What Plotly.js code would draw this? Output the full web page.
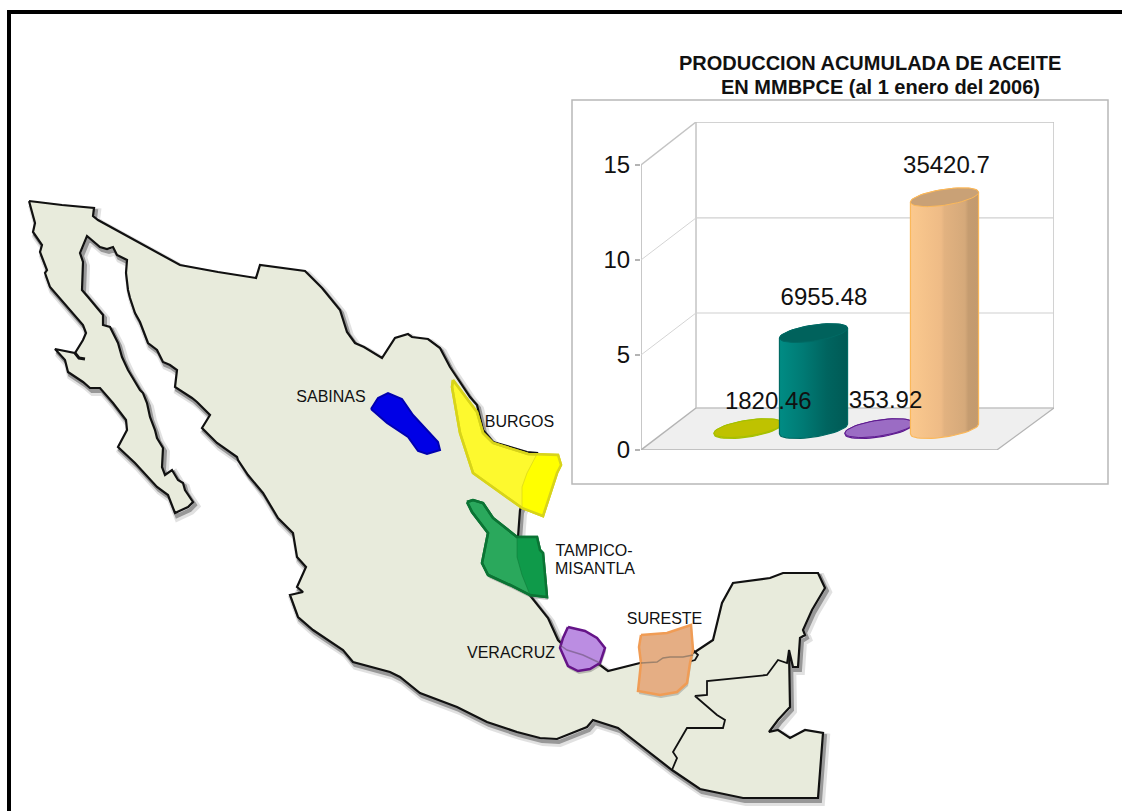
<!DOCTYPE html>
<html><head><meta charset="utf-8">
<script src="https://cdn.plot.ly/plotly-3.0.1.min.js"></script>
<style>html,body{margin:0;padding:0;background:#fff}#c{width:1122px;height:811px}</style>
</head><body><div id="c"></div>
<script>
// ---------- inset chart data ----------
const fieldLabels = ['1820.46','6955.48','353.92','35420.7'];
const barHeights = [0.05, 5.05, 0.05, 12.2];
const labelX = [0.31, 1.16, 2.1, 3.03];
const labelY = [2.45, 7.93, 2.5, 14.87];
const axisTicks = [0,5,10,15];
const chartTitle1 = 'PRODUCCION ACUMULADA DE ACEITE';
const chartTitle2 = 'EN MMBPCE (al 1 enero del 2006)';
// ---------- map data ----------
const outlineX = [29,62,94,93,98,140,180,218,256,260,305,322,340,347,355,364,382,395,408,412,428,440,450,470,477,483,493,527,537,532,520,518,517,528,548,558,570,600,608,640,663,683,695,713,722,733,770,783,818,825,812,803,805,800,798,793,789,790,778,769,778,790,805,823,818,743,700,672,618,593,587,557,540,517,487,457,420,400,390,353,343,313,298,290,303,297,306,297,293,278,263,248,238,237,217,202,210,197,192,175,177,170,163,157,148,140,135,130,128,126,127,117,113,107,100,87,80,83,82,88,103,103,110,118,122,128,137,140,143,147,150,155,157,163,162,165,172,178,183,185,193,188,175,168,157,135,118,127,126,113,100,90,83,68,65,55,75,83,86,83,50,45,47,40,42,33,35,29];
const outlineY = [201,205,208,216,220,243,265,272,278,265,271,288,310,332,343,347,358,338,334,337,339,348,367,397,405,430,442,452,453,480,510,537,557,593,618,640,652,665,671,663,658,657,652,640,603,583,578,573,573,588,610,630,635,638,667,667,650,707,720,732,730,738,730,733,798,798,789,770,728,720,727,739,738,732,722,707,693,677,672,662,650,630,617,595,592,587,567,557,533,518,493,475,460,457,443,428,415,402,398,387,370,365,362,350,343,322,313,298,290,273,260,255,247,249,247,236,253,262,290,297,315,325,327,343,357,370,385,390,393,403,417,430,438,448,467,475,470,480,483,490,502,507,513,495,487,463,447,430,420,403,388,388,382,372,360,349,353,340,333,325,287,273,270,252,245,232,223,201];
const borderX = [789,787,778,767,707,707,695,717,725,723,687,673,677,672];
const borderY = [650,663,660,675,681,695,696,715,720,728,728,752,758,770];
const lagoonX = [693,698,695,688];
const lagoonY = [650,655,660,662];
const bajaMarkX = [75,79,85];
const bajaMarkY = [353,358,359];
const sabinasX = [371,378,388,402,413,438,440,427,418,408,387,371];
const sabinasY = [409,398,393,399,415,442,450,454,451,437,423,409];
const burgosX = [453,477,483,493,528,558,561,557,543,522,473,460,452,453];
const burgosY = [380,412,433,443,454,455,465,473,516,508,473,433,387,380];
const burgosSeaX = [537,558,561,557,543,522,522,527,537];
const burgosSeaY = [454,455,465,473,516,508,487,473,454];
const tampicoX = [467,473,483,493,517,537,540,543,547,530,510,488,482,488,472,467];
const tampicoY = [502,500,503,518,537,537,550,553,597,595,585,575,563,533,512,502];
const tampicoSeaX = [517,537,540,543,547,530,522,517,517];
const tampicoSeaY = [537,537,550,553,597,595,575,557,537];
const veracruzX = [568,585,597,605,600,590,578,568,560,563,568];
const veracruzY = [627,631,638,648,663,669,671,666,648,638,627];
const veracruzCoastX = [560,567,583,600];
const veracruzCoastY = [645,650,655,663];
const suresteX = [641,667,691,693,690,687,677,660,638,641,639,641];
const suresteY = [635,633,625,650,663,683,692,695,691,663,647,635];
const suresteCoastX = [641,657,663,670,683,693];
const suresteCoastY = [663,662,658,657,657,655];
const regionNames = ['SABINAS','BURGOS','TAMPICO-','MISANTLA','VERACRUZ','SURESTE'];
const regionLabelX = [331,519.5,594,595,511,664.5];
const regionLabelY = [398,423,552,570,654,620];

// ---------- helpers ----------
const W=1122,H=811;
const px=v=>v/W, py=v=>1-v/H;
const base={hoverinfo:'skip',showlegend:false};
const traces=[];
const shift=(a,d)=>a.map(v=>v+d);
function mapShape(x,y,fill,line,width){
  traces.push({...base,type:'scatter',mode:'lines',x,y,fill:'toself',fillcolor:fill,
    line:{color:line,width:width,shape:'linear'},xaxis:'x',yaxis:'y'});
}
function mapLine(x,y,color,width){
  traces.push({...base,type:'scatter',mode:'lines',x,y,line:{color,width},xaxis:'x',yaxis:'y'});
}
// map shadow + land
mapLine(shift(outlineX,3),shift(outlineY,4),'rgba(120,120,120,0.22)',8);
mapLine(shift(outlineX,2),shift(outlineY,3),'rgba(80,80,80,0.5)',4);
mapShape(outlineX,outlineY,'#e8ebdc','#111',2.2);
mapLine(borderX,borderY,'#111',1.8);
mapLine(lagoonX,lagoonY,'#111',1.8);
mapLine(bajaMarkX,bajaMarkY,'#111',3);
// regions
mapShape(sabinasX,sabinasY,'#0000e6','#0000b0',2);
mapShape(shift(tampicoX,1),shift(tampicoY,3),'rgba(90,90,90,0.35)','rgba(90,90,90,0)',0);
mapShape(tampicoX,tampicoY,'#2aa85c','#0b7434',2.5);
mapShape(tampicoSeaX,tampicoSeaY,'#0f9a4a','rgba(11,116,52,0.5)',1);
mapLine(tampicoX,tampicoY,'#0b7434',2.5);
mapShape(burgosX,burgosY,'#fdf92e','#d8d41a',2.5);
mapShape(burgosSeaX,burgosSeaY,'#ffff00','rgba(216,212,26,0.7)',1);
mapLine(burgosX,burgosY,'#d8d41a',2.5);
mapShape(shift(veracruzX,1),shift(veracruzY,3),'rgba(90,90,90,0.35)','rgba(90,90,90,0)',0);
mapShape(veracruzX,veracruzY,'#bb8de2','#651488',2.5);
mapLine(veracruzCoastX,veracruzCoastY,'rgba(100,80,110,0.55)',1.5);
mapShape(shift(suresteX,1),shift(suresteY,3),'rgba(90,90,90,0.3)','rgba(90,90,90,0)',0);
mapShape(suresteX,suresteY,'#e5ae84','#f09c55',2.5);
mapLine(suresteCoastX,suresteCoastY,'rgba(110,100,90,0.6)',1.5);
traces.push({...base,type:'scatter',mode:'text',x:regionLabelX,y:regionLabelY,text:regionNames,
  textposition:'middle center',textfont:{family:'Liberation Sans',size:16,color:'#111'},xaxis:'x',yaxis:'y',cliponaxis:false});

// ---------- pseudo-3D chart frame, in chart units ----------
const depthX=0.84, depthY=2.21, xMin=-1.634, xFloorEnd=3.8, topVal=17.26;
const backL=xMin+depthX, backR=4.672;
function chartLine(x,y,color,width){
  traces.push({...base,type:'scatter',mode:'lines',x,y,line:{color,width},xaxis:'x2',yaxis:'y2',cliponaxis:false});
}
traces.push({...base,type:'scatter',mode:'lines',x:[xMin,xFloorEnd,backR,backL,xMin],y:[0,0,depthY,depthY,0],
  fill:'toself',fillcolor:'#efefef',line:{color:'rgba(0,0,0,0)',width:0},xaxis:'x2',yaxis:'y2',cliponaxis:false});
chartLine([xMin,xMin],[0,15],'#b4b4b4',1.5);
chartLine([backL,backR,backR,backL,backL],[topVal,topVal,depthY,depthY,topVal],'#c4c4c4',1.5);
chartLine([xMin,backL],[15,topVal],'#c4c4c4',1.5);
chartLine([xMin,backL],[0,depthY],'#b4b4b4',1.5);
chartLine([xMin,xFloorEnd,backR],[0,0,depthY],'#b4b4b4',1.3);
axisTicks.slice(1,3).forEach(t=>{
  chartLine([xMin,backL],[t,t+depthY],'#d4d4d4',1);
  chartLine([backL,backR],[t+depthY,t+depthY],'#d0d0d0',1.2);
});
// ---------- cylinders ----------
const lift=1.1, radX=0.52, radY=0.42, tilt=0.26;
function ellipse(c,v,from,to,n){
  const xs=[],ys=[];
  for(let i=0;i<=n;i++){const t=from+(to-from)*i/n;
    xs.push(c+radX*Math.cos(t)); ys.push(v+radY*Math.sin(t)+tilt*Math.cos(t));}
  return [xs,ys];
}
const barBody=[
  [[0,'#c4c400'],[0.5,'#c9c000'],[1,'#a5c000']],
  [[0,'#008c84'],[0.35,'#007a74'],[0.7,'#00645f'],[1,'#005a55']],
  [[0,'#9a6cc4'],[1,'#9a6cc4']],
  [[0,'#fbc98e'],[0.45,'#eebb86'],[0.5,'#e2b280'],[0.8,'#d5a97a'],[0.85,'#c59c70'],[1,'#c39a6e']]
];
const barCap=['#bfc200','#00625c','#9b6cc4','#c9a176'];
const barEdge=['#a5c000','#006a64','#5e1a90','#fbb85a'];
barHeights.forEach((h,i)=>{
  const top=lift+h;
  const [bx,by]=ellipse(i,lift,Math.PI,2*Math.PI,24);
  const [tx,ty]=ellipse(i,top,0,Math.PI,24);
  traces.push({...base,type:'scatter',mode:'lines',x:bx.concat(tx,[bx[0]]),y:by.concat(ty,[by[0]]),
    fill:'toself',fillgradient:{type:'horizontal',colorscale:barBody[i]},
    line:{color:barEdge[i],width:1.2},xaxis:'x2',yaxis:'y2',cliponaxis:false});
  const [cx,cy]=ellipse(i,top,0,2*Math.PI,48);
  traces.push({...base,type:'scatter',mode:'lines',x:cx,y:cy,fill:'toself',fillcolor:barCap[i],
    line:{color:barEdge[i],width:1},xaxis:'x2',yaxis:'y2',cliponaxis:false});
});
traces.push({...base,type:'scatter',mode:'text',x:labelX,y:labelY,text:fieldLabels,textposition:'middle center',
  textfont:{family:'Liberation Sans',size:24,color:'#111'},xaxis:'x2',yaxis:'y2',cliponaxis:false});

const rectPx=(x0,y0,x1,y1,o)=>Object.assign({type:'rect',xref:'paper',yref:'paper',layer:'below',
  x0:px(x0),x1:px(x1),y0:py(y0),y1:py(y1)},o);
const layout={
  width:W,height:H,margin:{l:0,r:0,t:0,b:0},paper_bgcolor:'#fff',plot_bgcolor:'rgba(0,0,0,0)',showlegend:false,
  xaxis:{domain:[0,1],range:[0,W],visible:false,fixedrange:true},
  yaxis:{domain:[0,1],range:[H,0],visible:false,fixedrange:true},
  xaxis2:{domain:[px(641),px(1054)],range:[xMin,backR],visible:false,anchor:'y2',fixedrange:true},
  yaxis2:{domain:[py(450),py(122)],range:[0,topVal],anchor:'x2',tickmode:'array',tickvals:axisTicks,
    ticktext:axisTicks.map(String),showgrid:false,zeroline:false,showline:false,ticks:'outside',ticklen:5,
    tickcolor:'#b4b4b4',tickwidth:1.2,tickfont:{family:'Liberation Sans',size:24,color:'#111'},fixedrange:true},
  shapes:[
    rectPx(7,10,11,H,{fillcolor:'#000',line:{width:0}}),
    rectPx(7,10,W,14,{fillcolor:'#000',line:{width:0}}),
    rectPx(572,100,1108,484,{fillcolor:'#fff',line:{color:'#b8b8b8',width:1.5}})
  ],
  annotations:[
    {xref:'paper',yref:'paper',x:px(870),y:py(63),text:'<b>'+chartTitle1+'</b>',showarrow:false,xanchor:'center',yanchor:'middle',
      font:{family:'Liberation Sans',size:20,color:'#111'}},
    {xref:'paper',yref:'paper',x:px(880),y:py(87),text:'<b>'+chartTitle2+'</b>',showarrow:false,xanchor:'center',yanchor:'middle',
      font:{family:'Liberation Sans',size:20,color:'#111'}}
  ]
};
Plotly.newPlot('c',traces,layout,{displayModeBar:false,staticPlot:true});
</script></body></html>
